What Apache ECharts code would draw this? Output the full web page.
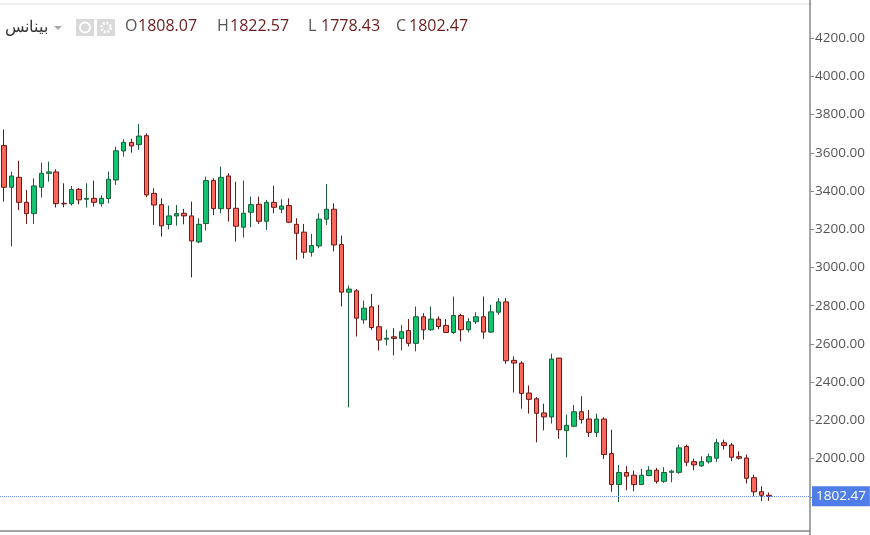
<!DOCTYPE html>
<html><head><meta charset="utf-8">
<script src="https://cdn.jsdelivr.net/npm/echarts@6/dist/echarts.min.js"></script>
<style>html,body{margin:0;padding:0;background:#fff}#c{width:870px;height:535px}</style>
</head><body><div id="c"></div>
<script>
// [open, close, low, high]
const opens  = [3638,3420,3472,3341,3282,3420,3493,3500,3336,3334,3409,3357,3362,3334,3361,3458,3610,3655,3643,3690,3388,3329,3225,3270,3284,3270,3134,3230,3455,3308,3479,3310,3211,3289,3331,3242,3341,3305,3324,3226,3185,3080,3113,3253,3305,3120,2871,2878,2726,2794,2690,2625,2637,2629,2670,2603,2742,2674,2730,2697,2660,2749,2674,2716,2742,2662,2766,2820,2514,2500,2343,2313,2239,2218,2526,2146,2169,2245,2207,2137,2207,2026,1864,1927,1913,1864,1911,1939,1881,1928,1928,2063,1984,1962,1983,2002,2083,2071,2010,2003,1900,1827,1808.07];
const closes = [3420,3479,3341,3282,3427,3493,3500,3334,3333,3408,3354,3362,3341,3362,3462,3611,3655,3636,3688,3380,3327,3218,3270,3282,3270,3139,3226,3455,3308,3472,3308,3216,3284,3329,3242,3341,3315,3322,3237,3179,3080,3115,3253,3305,3118,2871,2887,2735,2787,2686,2620,2630,2629,2664,2603,2742,2674,2730,2691,2660,2749,2674,2716,2742,2662,2768,2820,2512,2500,2341,2310,2237,2218,2521,2151,2174,2245,2204,2137,2207,2021,1864,1927,1908,1864,1913,1939,1881,1927,1934,2056,1981,1967,1984,2010,2083,2068,2007,2002,1897,1826,1808,1802.47];
const highs  = [3723,3502,3559,3406,3467,3549,3554,3514,3441,3427,3416,3441,3455,3378,3502,3632,3671,3674,3751,3702,3415,3362,3324,3327,3307,3345,3258,3476,3467,3528,3493,3449,3455,3371,3371,3354,3428,3357,3362,3258,3228,3176,3284,3437,3336,3167,2906,2887,2827,2862,2805,2674,2683,2700,2731,2796,2761,2796,2744,2730,2848,2758,2735,2766,2848,2805,2840,2840,2535,2509,2383,2322,2287,2549,2526,2230,2280,2326,2254,2235,2216,2151,1967,1960,1937,1946,1960,1951,1955,1942,2073,2073,2000,2012,2026,2103,2099,2082,2038,2021,1916,1855,1822.57];
const lows   = [3345,3110,3301,3228,3228,3366,3449,3314,3315,3324,3331,3314,3319,3319,3336,3432,3580,3601,3615,3368,3223,3162,3200,3219,3226,2948,3127,3193,3274,3284,3240,3136,3157,3211,3228,3197,3284,3284,3232,3040,3047,3057,3101,3223,3084,2796,2268,2639,2705,2674,2566,2592,2540,2566,2587,2561,2622,2669,2677,2657,2653,2613,2660,2704,2627,2657,2752,2496,2346,2261,2235,2085,2148,2183,2103,2007,2164,2183,2113,2113,1998,1826,1772,1834,1829,1864,1908,1869,1873,1876,1920,1960,1939,1956,1974,1981,2047,1986,1995,1869,1803,1777,1778.43];
const lastPrice = 1802.47;
const header = ['1808.07','1822.57','1778.43','1802.47'];

const N = 108;
const cats = Array.from({length:N},(_,i)=>String(i));
const data = opens.map((o,i)=>[o,closes[i],lows[i],highs[i]]);
const tickIdx = [14,27,45,58,73,86,99];

const chart = echarts.init(document.getElementById('c'));
const hdrFont = '16px "Open Sans", "Noto Sans", sans-serif';
const lbl = ['O','H','L','C'];
const xs = [125,217,308,396];
const g = [
  {type:'text',right:822,top:19,style:{text:'بينانس',font:hdrFont,fill:'#333',textAlign:'right'}},
  {type:'polygon',shape:{points:[[54,26],[62,26],[58,30]]},style:{fill:'#aaa'}},
  {type:'rect',shape:{x:76,y:19,width:18,height:17},style:{fill:'#d9d9d9'}},
  {type:'circle',shape:{cx:85,cy:27.5,r:5},style:{fill:'none',stroke:'#fff',lineWidth:2}},
  {type:'rect',shape:{x:97,y:19,width:18,height:17},style:{fill:'#d9d9d9'}},
  {type:'circle',shape:{cx:106,cy:27.5,r:4.5},style:{fill:'none',stroke:'#fff',lineWidth:3,lineDash:[2,1.5]}},
  {type:'rect',shape:{x:0,y:3.5,width:812,height:1},style:{fill:'#ddd'}}
];
lbl.forEach((l,i)=>{
  g.push({type:'text',left:xs[i],top:18,style:{text:l,font:hdrFont,fill:'#555'}});
  g.push({type:'text',left:xs[i]+13,top:18,style:{text:header[i],font:hdrFont,fill:'#6b1c1c'}});
});

chart.setOption({
  animation:false,
  grid:{left:0,right:60,top:-0.3,height:535.8},
  xAxis:{type:'category',data:cats,boundaryGap:true,offset:-4.5,
    axisLine:{lineStyle:{color:'#888',width:1.5}},
    axisTick:{inside:true,length:5,interval:(i)=>tickIdx.includes(i),lineStyle:{color:'#888'}},
    axisLabel:{show:false},splitLine:{show:false}},
  yAxis:{type:'value',position:'right',min:1600,max:4400,interval:200,
    axisLine:{show:true,lineStyle:{color:'#888',width:1.5}},
    axisTick:{show:true,length:4,lineStyle:{color:'#888'}},
    splitLine:{show:false},
    axisLabel:{showMinLabel:false,showMaxLabel:false,color:'#555',fontSize:13.5,margin:5,
      fontFamily:'"Open Sans", sans-serif',formatter:v=>v.toFixed(2)}},
  graphic:g,
  series:[{type:'candlestick',data:data,barWidth:5,
    itemStyle:{color:'#12c46f',color0:'#f9685c',borderColor:'#1d5e3c',borderColor0:'#6e1717',borderWidth:1},
    markLine:{symbol:'none',silent:true,
      lineStyle:{color:'#6f8ff0',type:'dotted',width:1},
      label:{position:'end',distance:2,formatter:()=>lastPrice.toFixed(2),color:'#fff',
        backgroundColor:'#4f7ee9',padding:[3,4,3,4],fontSize:13.5,fontFamily:'"Open Sans", sans-serif'},
      data:[{yAxis:lastPrice}]}}]
});
</script></body></html>
